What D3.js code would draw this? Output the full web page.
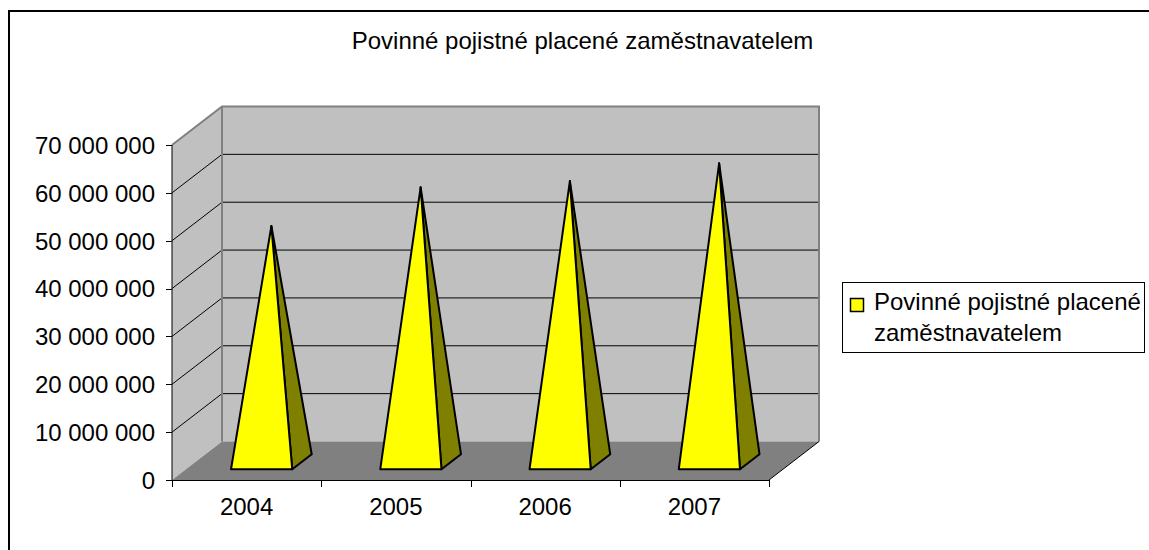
<!DOCTYPE html>
<html>
<head>
<meta charset="utf-8">
<script src="https://cdn.jsdelivr.net/npm/d3@7"></script>
<style>
  html, body { margin: 0; padding: 0; background: #fff; }
  svg { display: block; font-family: "Liberation Sans", Arial, sans-serif; }
</style>
</head>
<body>
<svg id="chart" width="1149" height="550"></svg>
<script>
// 3D pyramid column chart, Excel style
const title = "Povinné pojistné placené zaměstnavatelem";
const categories = ["2004", "2005", "2006", "2007"];
const values = [49250000, 57340000, 58650000, 62350000];
const yTicks = [0, 10000000, 20000000, 30000000, 40000000, 50000000, 60000000, 70000000];
const legendLabel = ["Povinné pojistné placené", "zaměstnavatelem"];

const fontSize = 24;
// depth offset of the 3D box
const DX = 50, DY = 38.5;

const locale = d3.formatLocale({ decimal: ",", thousands: " ", grouping: [3], currency: ["", ""] });
const fmt = locale.format(",d");

const y = d3.scaleLinear().domain([0, 70000000]).range([480, 145]);
const x = d3.scaleBand().domain(categories).range([172, 769]);

// project a point (x on front plane, value, depth 0..1) to the screen
function proj(px, v, d) {
  return [px + d * DX, y(v) - d * DY];
}
const poly = pts => "M" + pts.map(p => p.join(",")).join("L") + "Z";

const svg = d3.select("#chart");

// outer chart border (runs off the picture to the right / bottom)
svg.append("rect")
    .attr("x", 9).attr("y", 11)
    .attr("width", 1200).attr("height", 600)
    .attr("fill", "#fff")
    .attr("stroke", "#000")
    .attr("stroke-width", 2);

svg.append("text")
    .attr("x", 582.5).attr("y", 49)
    .attr("text-anchor", "middle")
    .style("font-size", fontSize + "px")
    .text(title);

const x0 = x.range()[0], x1 = x.range()[1];
const vMax = y.domain()[1];

// walls and floor
svg.append("path")
    .attr("d", poly([proj(x0, 0, 0), proj(x0, vMax, 0), proj(x0, vMax, 1), proj(x0, 0, 1)]))
    .attr("fill", "#c0c0c0");
svg.append("path")
    .attr("d", poly([proj(x0, 0, 1), proj(x0, vMax, 1), proj(x1, vMax, 1), proj(x1, 0, 1)]))
    .attr("fill", "#c0c0c0");
svg.append("path")
    .attr("d", poly([proj(x0, 0, 0), proj(x1, 0, 0), proj(x1, 0, 1), proj(x0, 0, 1)]))
    .attr("fill", "#808080");

// gridlines: diagonal on the side wall, flat on the back wall
const grid = svg.append("g").attr("stroke", "#000").attr("stroke-width", 1).attr("fill", "none");
grid.selectAll("path")
    .data(yTicks.filter(v => v > 0 && v < vMax))
    .join("path")
    .attr("d", v => "M" + proj(x0, v, 0) + "L" + proj(x0, v, 1) + "L" + proj(x1, v, 1));

// wall edges
svg.append("path")
    .attr("d", "M" + proj(x0, vMax, 0) + "L" + proj(x0, vMax, 1) + "L" + proj(x1, vMax, 1) + "L" + proj(x1, 0, 1))
    .attr("fill", "none").attr("stroke", "#808080").attr("stroke-width", 2);
svg.append("path")
    .attr("d", "M" + proj(x0, 0, 1) + "L" + proj(x0, vMax, 1))
    .attr("fill", "none").attr("stroke", "#808080").attr("stroke-width", 2);

// floor front-right edge
svg.append("path")
    .attr("d", "M" + proj(x1, 0, 0) + "L" + proj(x1, 0, 1))
    .attr("stroke", "#000").attr("stroke-width", 1);

// pyramids
const d0 = 0.28, d1 = 0.67, dm = (d0 + d1) / 2;
const hw = x.bandwidth() * 0.205;
const pyr = svg.append("g")
    .attr("stroke", "#000")
    .attr("stroke-width", 2)
    .attr("stroke-linejoin", "round")
    .selectAll("g")
    .data(categories.map((c, i) => ({ c, v: values[i] })))
    .join("g");

pyr.append("path")
    .attr("fill", "#808000")
    .attr("d", d => {
      const cx = x(d.c) + x.bandwidth() / 2 + 1;
      return poly([proj(cx + hw, 0, d0), proj(cx + hw, 0, d1), proj(cx, d.v, dm)]);
    });
pyr.append("path")
    .attr("fill", "#ffff00")
    .attr("d", d => {
      const cx = x(d.c) + x.bandwidth() / 2 + 1;
      return poly([proj(cx - hw, 0, d0), proj(cx + hw, 0, d0), proj(cx, d.v, dm)]);
    });

// y axis
const yAxis = svg.append("g");
yAxis.append("line")
    .attr("x1", x0).attr("x2", x0).attr("y1", y(0)).attr("y2", y(vMax))
    .attr("stroke", "#000");
yAxis.selectAll("line.tick")
    .data(yTicks)
    .join("line")
    .attr("class", "tick")
    .attr("x1", x0 - 6).attr("x2", x0)
    .attr("y1", d => Math.round(y(d)) + 0.5).attr("y2", d => Math.round(y(d)) + 0.5)
    .attr("stroke", "#000");
yAxis.selectAll("text")
    .data(yTicks)
    .join("text")
    .attr("x", 155)
    .attr("y", d => y(d))
    .attr("dy", "0.37em")
    .attr("text-anchor", "end")
    .style("font-size", fontSize + "px")
    .text(d => fmt(d));

// x axis
const xAxis = svg.append("g");
xAxis.append("line")
    .attr("x1", x0).attr("x2", x1).attr("y1", 480.5).attr("y2", 480.5)
    .attr("stroke", "#000");
xAxis.selectAll("line.tick")
    .data(categories.map(c => x(c)).concat([x1]))
    .join("line")
    .attr("class", "tick")
    .attr("x1", d => Math.round(d) + 0.5).attr("x2", d => Math.round(d) + 0.5)
    .attr("y1", 480).attr("y2", 487)
    .attr("stroke", "#000");
xAxis.selectAll("text")
    .data(categories)
    .join("text")
    .attr("x", d => x(d) + x.bandwidth() / 2)
    .attr("y", 515)
    .attr("text-anchor", "middle")
    .style("font-size", fontSize + "px")
    .text(d => d);

// legend
const legend = svg.append("g");
legend.append("rect")
    .attr("x", 842.5).attr("y", 282.5)
    .attr("width", 302).attr("height", 70)
    .attr("fill", "#fff").attr("stroke", "#000");
legend.append("rect")
    .attr("x", 850.5).attr("y", 298.5)
    .attr("width", 13).attr("height", 13)
    .attr("fill", "#ffff00").attr("stroke", "#000").attr("stroke-width", 1.5);
legend.selectAll("text")
    .data(legendLabel)
    .join("text")
    .attr("x", 874)
    .attr("y", (d, i) => 310 + i * 30.5)
    .style("font-size", fontSize + "px")
    .text(d => d);
</script>
</body>
</html>
